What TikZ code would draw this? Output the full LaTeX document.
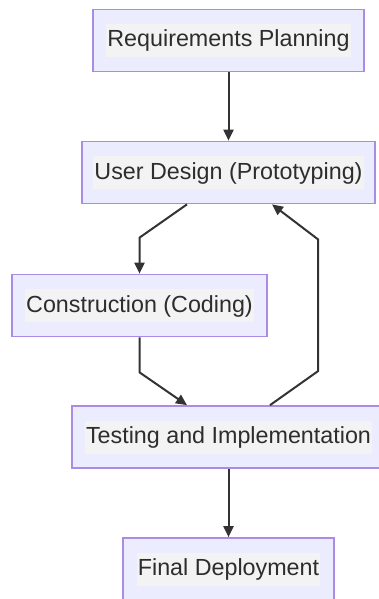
\documentclass[tikz,border=0pt]{standalone}
\usepackage{fontspec}
\setmainfont{Liberation Sans}
\usetikzlibrary{arrows.meta}
\definecolor{boxfill}{RGB}{236,236,255}
\definecolor{boxline}{RGB}{170,140,230}
\definecolor{txtbg}{RGB}{243,243,243}
\definecolor{txt}{RGB}{45,45,45}
\definecolor{edgecol}{RGB}{51,51,51}
\newcommand{\lbl}[1]{{\setlength\fboxsep{0pt}\colorbox{txtbg}{\rule[-10pt]{0pt}{33pt}\hspace{1pt}#1\hspace{1pt}}}}
\tikzset{
  box/.style={draw=boxline, fill=boxfill, line width=1.7pt, inner sep=0pt,
    minimum height=62pt, text=txt, font=\fontsize{23.3}{28}\selectfont},
  edge/.style={draw=edgecol, line width=2pt, -{Triangle[length=11pt,width=10pt]}}
}
\begin{document}
\begin{tikzpicture}[x=1pt,y=-1pt]
\useasboundingbox (0,0) rectangle (379,599);
\node[box, minimum width=271pt] (b1) at (228.5,40.5) {\lbl{Requirements Planning}};
\node[box, minimum width=293pt] (b2) at (228.5,172.5) {\lbl{User Design (Prototyping)}};
\node[box, minimum width=255pt] (b3) at (139.5,305.5) {\lbl{Construction (Coding)}};
\node[box, minimum width=313pt] (b4) at (228.5,437) {\lbl{Testing and Implementation}};
\node[box, minimum width=211pt] (b5) at (228.5,569) {\lbl{Final Deployment}};
\draw[edge] (b1.south) -- (b2.north);
\draw[edge] ([xshift=-41.5pt]b2.south) -- ([yshift=36pt]b3.north) -- (b3.north);
\draw[edge] (b3.south) -- ([yshift=-35pt]b3.south) -- ([xshift=-41.5pt]b4.north);
\draw[edge] ([xshift=41.5pt]b4.north) -- ([xshift=89.5pt,yshift=34pt]b4.north) -- ([xshift=89.5pt,yshift=-35pt]b2.south) -- ([xshift=43.5pt]b2.south);
\draw[edge] (b4.south) -- (b5.north);
\end{tikzpicture}
\end{document}
